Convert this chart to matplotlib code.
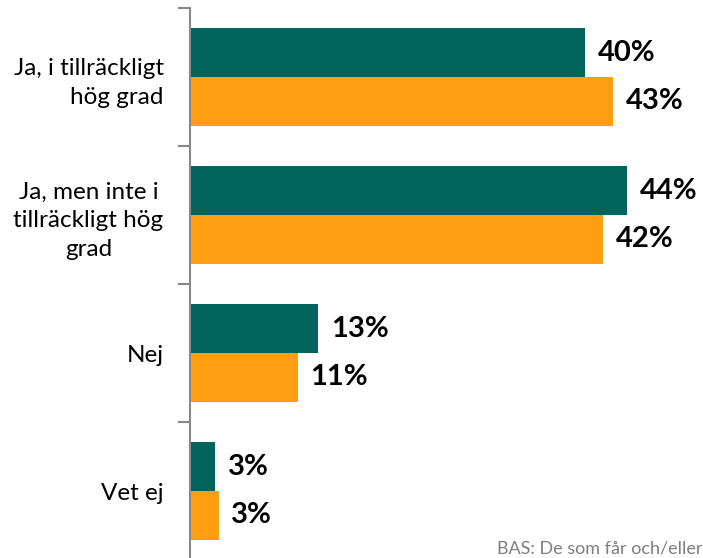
import matplotlib.pyplot as plt
import numpy as np

categories = ["Ja, i tillräckligt\nhög grad", "Ja, men inte i\ntillräckligt hög\ngrad", "Nej", "Vet ej"]
teal_values = [40.0, 44.3, 13.0, 2.5]
orange_values = [42.9, 41.8, 10.9, 2.9]
teal_labels = ["40%", "44%", "13%", "3%"]
orange_labels = ["43%", "42%", "11%", "3%"]

teal = "#00645C"
orange = "#FF9E10"
plt.rcParams['font.family'] = ['Lato', 'DejaVu Sans']

fig = plt.figure(figsize=(7.03, 5.58), dpi=100)
ax = fig.add_axes([190 / 703, -2 / 558, 513 / 703, 552 / 558])

y = np.arange(len(categories))
h = 0.355
ax.barh(y - h / 2, teal_values, height=h, color=teal)
ax.barh(y + h / 2, orange_values, height=h, color=orange)

for i in range(len(categories)):
    ax.text(teal_values[i] + 1.3, y[i] - h / 2, teal_labels[i], va="center", ha="left",
            fontsize=21, fontweight="bold")
    ax.text(orange_values[i] + 1.3, y[i] + h / 2, orange_labels[i], va="center", ha="left",
            fontsize=21, fontweight="bold")

ax.set_xlim(0, 513 / 9.87)
ax.set_ylim(3.5, -0.5)

ax.set_yticks(y)
ax.set_yticklabels(categories, fontsize=17.5, linespacing=1.45)
ax.set_yticks(np.arange(-0.5, 4, 1), minor=True)
ax.tick_params(axis="y", which="major", length=0, pad=19)
ax.tick_params(axis="y", which="minor", length=9, color="#888888", width=1.5)
for lbl, ma in zip(ax.get_yticklabels(), ["right", "center", "right", "right"]):
    lbl.set_multialignment(ma)
ax.set_xticks([])

for s in ["top", "right", "bottom"]:
    ax.spines[s].set_visible(False)
ax.spines["left"].set_color("#888888")
ax.spines["left"].set_linewidth(1.5)

fig.text(497 / 703, 1 - 549 / 558, "BAS: De som får och/eller", fontsize=13,
         color="#7f7f7f", va="center", ha="left")

fig.savefig("out.png", dpi=100)
